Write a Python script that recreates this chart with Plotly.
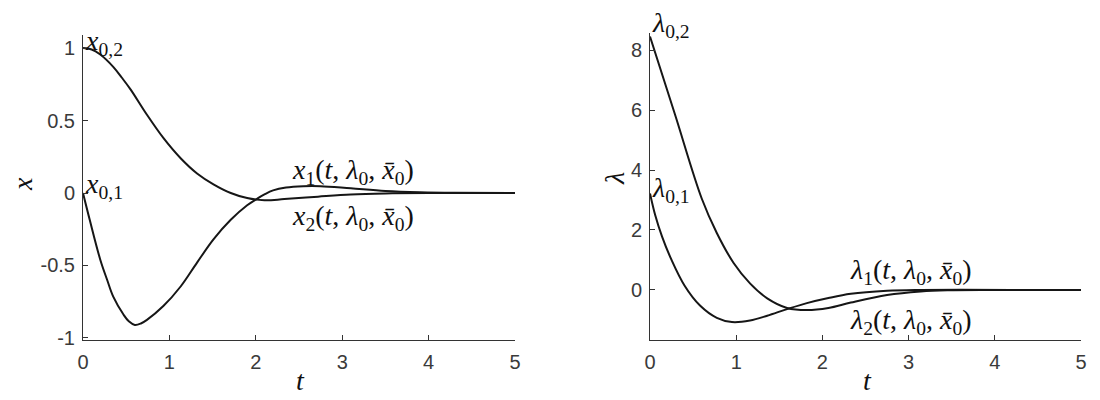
import plotly.graph_objects as go

# ---------------- data ----------------
t_x1 = [0, 0.08, 0.2, 0.28, 0.35, 0.47, 0.53, 0.6, 0.67, 0.74, 0.93, 1.13, 1.32, 1.51, 1.71, 1.9, 2.0, 2.1, 2.2, 2.35, 2.55, 2.75, 3.1, 3.5, 3.9, 4.3, 5.0]
x1_vals = [0, -0.19, -0.46, -0.60, -0.715, -0.84, -0.885, -0.91, -0.9, -0.875, -0.78, -0.645, -0.48, -0.32, -0.185, -0.085, -0.045, -0.01, 0.018, 0.038, 0.047, 0.047, 0.032, 0.014, 0.005, 0.001, 0.0]

t_x2 = [0, 0.1, 0.2, 0.35, 0.45, 0.55, 0.74, 0.93, 1.13, 1.32, 1.51, 1.71, 1.9, 2.1, 2.33, 2.72, 3.1, 3.5, 4.0, 5.0]
x2_vals = [1.0, 0.99, 0.955, 0.87, 0.795, 0.715, 0.54, 0.38, 0.24, 0.135, 0.06, 0.0, -0.035, -0.05, -0.042, -0.025, -0.01, -0.003, 0.0, 0.0]

t_l1 = [0, 0.06, 0.14, 0.25, 0.4, 0.58, 0.775, 0.95, 1.16, 1.36, 1.59, 1.82, 2.07, 2.33, 2.75, 3.14, 3.6, 4.2, 5.0]
l1_vals = [3.22, 2.5, 1.78, 1.0, 0.15, -0.52, -0.93, -1.07, -1.02, -0.86, -0.64, -0.44, -0.27, -0.13, -0.03, 0.0, 0.01, 0.0, 0.0]

t_l2 = [0, 0.29, 0.6, 0.775, 0.97, 1.16, 1.36, 1.59, 1.82, 2.07, 2.33, 2.75, 3.14, 3.45, 4.0, 5.0]
l2_vals = [8.45, 5.85, 3.05, 1.9, 0.9, 0.22, -0.28, -0.6, -0.67, -0.6, -0.42, -0.17, -0.05, -0.01, 0.0, 0.0]

t_ticks = [0, 1, 2, 3, 4, 5]
t_ticktext = ["0", "1", "2", "3", "4", "5"]
x_ticks = [-1, -0.5, 0, 0.5, 1]
x_ticktext = ["-1", "-0.5", "0", "0.5", "1"]
l_ticks = [0, 2, 4, 6, 8]
l_ticktext = ["0", "2", "4", "6", "8"]

# ---------------- geometry (page has an 8px body margin) ----------------
OFF = 8
W, H = 1100 - OFF, 400 - OFF
def px(x):
    return (x - OFF) / W
def py(y):
    return 1 - (y - OFF) / H

# ---------------- figure ----------------
LINE = dict(color="#161616", width=2, shape="spline", smoothing=1.0)
fig = go.Figure()
fig.add_trace(go.Scatter(x=t_x1, y=x1_vals, mode="lines", line=LINE, xaxis="x", yaxis="y", showlegend=False))
fig.add_trace(go.Scatter(x=t_x2, y=x2_vals, mode="lines", line=LINE, xaxis="x", yaxis="y", showlegend=False))
fig.add_trace(go.Scatter(x=t_l1, y=l1_vals, mode="lines", line=LINE, xaxis="x2", yaxis="y2", showlegend=False))
fig.add_trace(go.Scatter(x=t_l2, y=l2_vals, mode="lines", line=LINE, xaxis="x2", yaxis="y2", showlegend=False))

TICKFONT = dict(family="Liberation Sans, Arial, sans-serif", size=20, color="#3a3a3a")
AX = dict(showgrid=False, zeroline=False, showline=True, linecolor="#333333", linewidth=1,
          ticks="inside", ticklen=5, tickwidth=1, tickcolor="#333333", tickfont=TICKFONT,
          tickmode="array", fixedrange=True, automargin=False)

fig.update_layout(
    width=W, height=H,
    margin=dict(l=0, r=0, t=0, b=0, autoexpand=False),
    paper_bgcolor="white", plot_bgcolor="white",
    xaxis=dict(AX, domain=[px(83), px(515)], range=[0, 5], tickvals=t_ticks, ticktext=t_ticktext,
               anchor="y", ticklabelstandoff=4),
    yaxis=dict(AX, domain=[py(340), py(35)], range=[-1.014, 1.09], tickvals=x_ticks,
               ticktext=x_ticktext, anchor="x", ticklabelstandoff=3),
    xaxis2=dict(AX, domain=[px(650), px(1081)], range=[0, 5], tickvals=t_ticks, ticktext=t_ticktext,
                anchor="y2", ticklabelstandoff=4),
    yaxis2=dict(AX, domain=[py(340), py(33)], range=[-1.67, 8.57], tickvals=l_ticks,
                ticktext=l_ticktext, anchor="x2", ticklabelstandoff=3),
)

SERIF = dict(family="Liberation Serif, Times New Roman, serif", size=28, color="#111111")
ann = []
def A(text, x, y, xref, yref, xanchor="left", yanchor="middle", angle=0, size=28, yshift=0):
    ann.append(dict(text=text, x=x, y=y, xref=xref, yref=yref, xanchor=xanchor, yanchor=yanchor,
                    showarrow=False, textangle=angle, yshift=yshift, font=dict(SERIF, size=size)))

lam0 = "<i>λ</i><sub>0</sub>"
xbar0 = "<i>x̄</i><sub>0</sub>"
# left panel
A("<i>x</i><sub>0,2</sub>", 0.0, 1.04, "x", "y")
A("<i>x</i><sub>0,1</sub>", 0.0, 0.05, "x", "y")
A("<i>x</i><sub>1</sub>(<i>t</i>, " + lam0 + ", " + xbar0 + ")", 2.4, 0.15, "x", "y")
A("<i>x</i><sub>2</sub>(<i>t</i>, " + lam0 + ", " + xbar0 + ")", 2.4, -0.17, "x", "y")
# right panel
A("<i>λ</i><sub>0,2</sub>", 0.0, 8.2, "x2", "y2", yanchor="bottom")
A("<i>λ</i><sub>0,1</sub>", 0.0, 3.35, "x2", "y2")
A("<i>λ</i><sub>1</sub>(<i>t</i>, " + lam0 + ", " + xbar0 + ")", 2.3, 0.6, "x2", "y2")
A("<i>λ</i><sub>2</sub>(<i>t</i>, " + lam0 + ", " + xbar0 + ")", 2.3, -1.05, "x2", "y2")
# axis titles
A("<i>t</i>", px(300), py(380), "paper", "paper", xanchor="center", size=28)
A("<i>t</i>", px(867), py(380), "paper", "paper", xanchor="center", size=28)
A("<i>x</i>", px(22), py(184), "paper", "paper", xanchor="center", angle=-90, size=28)
A("<i>λ</i>", px(614), py(179), "paper", "paper", xanchor="center", angle=-90, size=28)
fig.update_layout(annotations=ann)

fig.write_html("out.html")
